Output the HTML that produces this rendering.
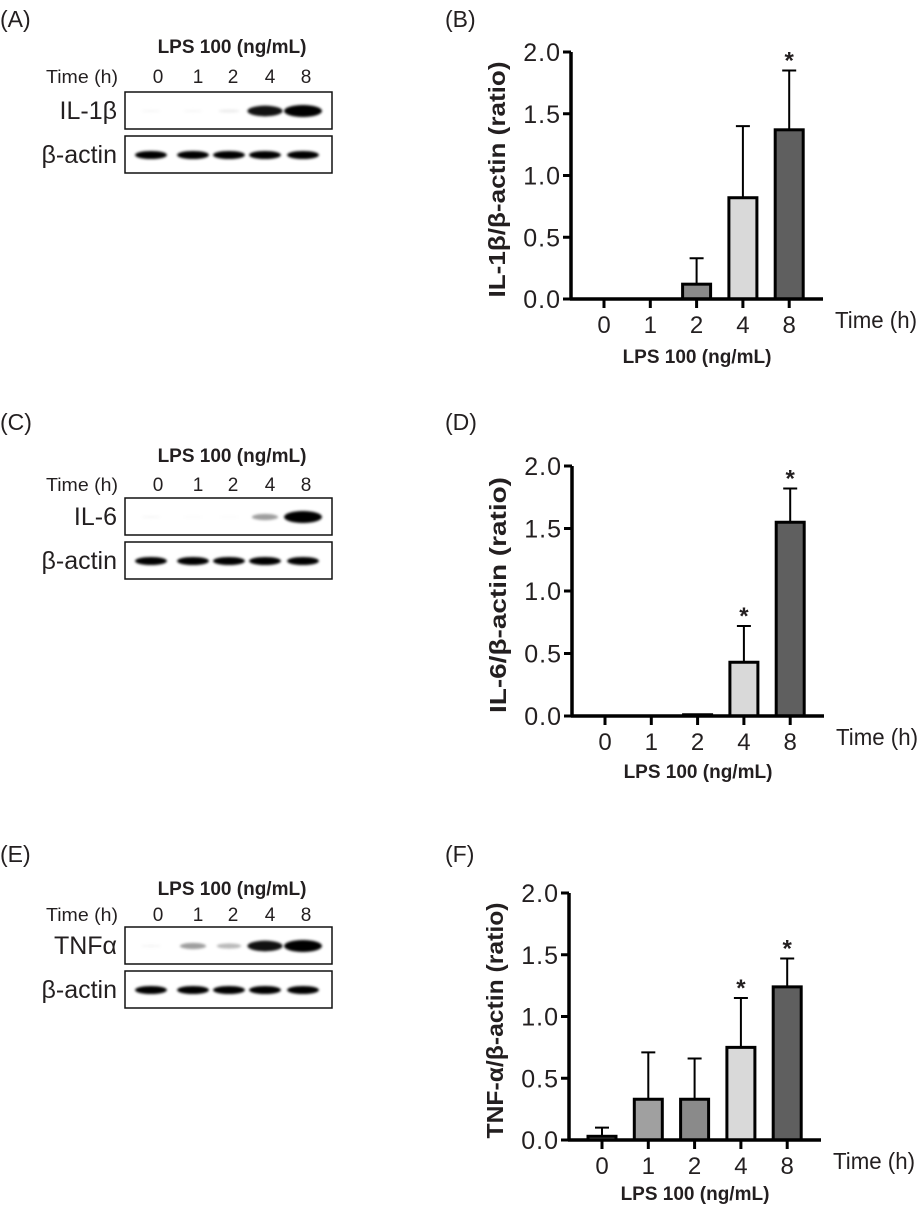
<!DOCTYPE html>
<html><head><meta charset="utf-8"><style>
body{margin:0;background:#fff;width:921px;height:1207px;overflow:hidden}
svg{display:block}
text{font-family:"Liberation Sans",Arial,sans-serif;fill:#231f20}
</style></head><body>
<svg id="fig" width="921" height="1207" viewBox="0 0 921 1207">
<defs><filter id="blur" x="-20%" y="-50%" width="140%" height="200%"><feGaussianBlur stdDeviation="1.2"/></filter></defs>
</svg>
<script>
// ---- chart data ----
const categories = ["0","1","2","4","8"];
const yTicks = [0, 0.5, 1.0, 1.5, 2.0];
const yTickLabels = ["0.0","0.5","1.0","1.5","2.0"];
const il1bMeans = [0, 0, 0.12, 0.82, 1.37];
const il1bErr = [0, 0, 0.21, 0.58, 0.48];
const il1bSig = [false, false, false, false, true];
const il6Means = [0, 0, 0.01, 0.43, 1.55];
const il6Err = [0, 0, 0, 0.29, 0.27];
const il6Sig = [false, false, false, true, true];
const tnfMeans = [0.03, 0.33, 0.33, 0.75, 1.24];
const tnfErr = [0.07, 0.38, 0.33, 0.40, 0.23];
const tnfSig = [false, false, false, true, true];
const barFills = ["#8a8a8a","#a0a0a0","#8a8a8a","#d9d9d9","#5f5f5f"];
// blot band intensities (0..1) per lane
const il1bBand = [0.02, 0.02, 0.06, 0.85, 1];
const il6Band = [0.02, 0.01, 0.01, 0.35, 1];
const tnfBand = [0.03, 0.35, 0.25, 0.85, 1];
const actinBand = [0.95, 0.92, 0.97, 0.93, 0.95];

const NS = "http://www.w3.org/2000/svg";
const svg = document.getElementById('fig');
function el(tag, attrs, parent, txt){
  const e = document.createElementNS(NS, tag);
  for (const k in attrs) e.setAttribute(k, attrs[k]);
  if (txt !== undefined) e.textContent = txt;
  (parent || svg).appendChild(e);
  return e;
}

function panelLabel(x, y, t){
  const e = el('text', {x:x, y:y, 'font-size':23}, svg, t);
  
  
}

function blot(top, protLabel, bands, lpsY, timeY){
  const g = el('g', {});
  
  
  const lanes = [151, 193, 229, 265, 303];
  const lx = [158, 198, 233, 270, 306];
  const t = el('text', {x:232, y:lpsY, 'font-size':19, 'font-weight':'bold', 'text-anchor':'middle'}, g, 'LPS 100 (ng/mL)');
  
  
  const tl = el('text', {x:118, y:timeY, 'font-size':18, 'text-anchor':'end', textLength:72, lengthAdjust:'spacingAndGlyphs'}, g, 'Time (h)');
  
  
  categories.forEach((c,i)=>{
    const lt = el('text', {x:lx[i], y:timeY, 'font-size':19, 'text-anchor':'middle'}, g, c);
    
    
  });
  const rows = [[top, protLabel, bands],[top+44, 'β-actin', actinBand]];
  rows.forEach((r, ri)=>{
    const y0 = r[0];
    const b = el('rect', {x:125, y:y0, width:207, height:37, fill:'#fff', stroke:'#111', 'stroke-width':1.5}, g);
    
    
    const lab = el('text', {x:117, y:y0+27, 'font-size':25, 'text-anchor':'end'}, g, r[1]);
    
    
    r[2].forEach((v,i)=>{
      if (v < 0.01) return;
      const wide = ri===0 ? (10 + 9*v) : 16;
      const h = ri===0 ? (3 + 9*v) : 8;
      const bd = el('ellipse', {cx:lanes[i], cy:y0+19, rx:wide, ry:h/2, fill:'#000', 'fill-opacity':Math.min(1,v*1.1), filter:'url(#blur)'}, g);
      
      
    });
  });
}

function chart(ax, y0, y2, ytitle, means, errs, sig, titleOff){
  const g = el('g', {});
  
  
  const xs = i => ax + 33 + i*46.3;
  const ys = v => y0 - (v/2)*(y0-y2);
  means.forEach((m,i)=>{
    if (m > 0.005){
      const r = el('rect', {x:xs(i)-14, y:ys(m), width:28, height:y0-ys(m), fill:barFills[i], stroke:'#000', 'stroke-width':3}, g);
      
      
    }
    if (errs[i] > 0){
      const e = el('path', {d:`M${xs(i)},${ys(m)} V${ys(m+errs[i])} M${xs(i)-7},${ys(m+errs[i])} H${xs(i)+7}`, stroke:'#000', 'stroke-width':2, fill:'none'}, g);
      
      
    }
    if (sig[i]){
      const s = el('text', {x:xs(i), y:ys(m+errs[i])-2, 'font-size':24, 'font-weight':'bold', 'text-anchor':'middle'}, g, '*');
      
      
    }
  });
  const ya = el('path', {d:`M${ax},${y2} V${y0}`, stroke:'#000', 'stroke-width':3.5}, g);
  
  
  const xa = el('path', {d:`M${ax-1},${y0} H${ax+252}`, stroke:'#000', 'stroke-width':3.5}, g);
  
  
  yTicks.forEach((t,i)=>{
    el('path', {d:`M${ax-8},${ys(t)} H${ax}`, stroke:'#000', 'stroke-width':3}, g);
    const tl = el('text', {x:ax-10, y:ys(t)+9, 'font-size':25, 'letter-spacing':1, 'text-anchor':'end'}, g, yTickLabels[i]);
    
    
  });
  categories.forEach((c,i)=>{
    el('path', {d:`M${xs(i)},${y0} V${y0+9}`, stroke:'#000', 'stroke-width':3}, g);
    const tl = el('text', {x:xs(i), y:y0+34, 'font-size':24, 'text-anchor':'middle'}, g, c);
    
    
  });
  const tt = el('text', {x:ax+264, y:y0+29, 'font-size':23, textLength:82, lengthAdjust:'spacingAndGlyphs'}, g, 'Time (h)');
  
  
  const xt = el('text', {x:ax+126, y:y0+titleOff, 'font-size':19, 'font-weight':'bold', 'text-anchor':'middle'}, g, 'LPS 100 (ng/mL)');
  
  
  const yt = el('text', {x:0, y:0, 'font-size':23, 'font-weight':'bold', 'text-anchor':'middle', textLength:236, lengthAdjust:'spacingAndGlyphs', transform:`translate(${ax-66},${(y0+y2)/2+4}) rotate(-90)`}, g, ytitle);
  
  
}

panelLabel(0, 27, '(A)');
panelLabel(0, 430, '(C)');
panelLabel(0, 862, '(E)');
panelLabel(445, 27, '(B)');
panelLabel(445, 430, '(D)');
panelLabel(445, 862, '(F)');

blot(92, 'IL-1β', il1bBand, 53, 83);
blot(498, 'IL-6', il6Band, 462, 491);
blot(927, 'TNFα', tnfBand, 895, 921);

chart(571, 299, 52, 'IL-1β/β-actin (ratio)', il1bMeans, il1bErr, il1bSig, 64);
chart(572, 716, 466, 'IL-6/β-actin (ratio)', il6Means, il6Err, il6Sig, 62);
chart(569, 1140, 893, 'TNF-α/β-actin (ratio)', tnfMeans, tnfErr, tnfSig, 60);
</script>
</body></html>
